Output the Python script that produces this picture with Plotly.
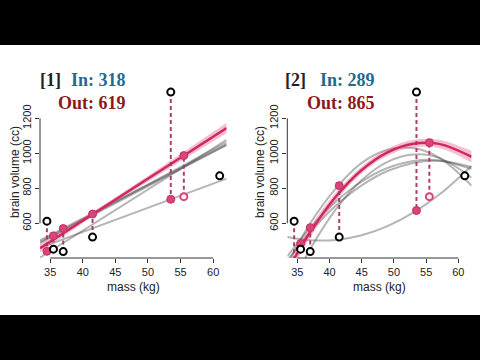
import plotly.graph_objects as go

# ---- data ----
mass = [37.0, 35.5, 34.5, 41.5, 55.5, 61.0, 53.5]
brain = [438, 452, 612, 521, 752, 871, 1350]
left_out = [34.5, 35.5, 37.0, 41.5, 53.5, 55.5]      # points already left out (last = current)
current_out = 55.5

# panel 1: straight-line fits, each left-out point -> line ends at x range edges
lin_x = [33.44, 62.06]
lin_fits = {
    34.5: [404, 1077],
    35.5: [488, 1049],
    37.0: [502, 1049],
    41.5: [492, 1063],
    53.5: [460, 855],
}
lin_cur = [458, 1144]
lin_band_x = [33.44, 38.6, 43.83, 53.0, 62.06]
lin_band_hi = [481, 599, 720, 946, 1174]
lin_band_lo = [435, 565, 694, 908, 1114]
lin_pred = [440, 528, 570, 653, 737, 987]

# panel 2: parabola fits sampled along mass
quad_x = [33.44, 37, 41, 45, 49, 53, 57, 62.06]
quad_fits = {
    34.5: [198, 453, 681, 847, 951, 993, 974, 861],
    35.5: [386, 550, 701, 817, 899, 945, 957, 922],
    37.0: [410, 575, 725, 839, 916, 956, 959, 910],
    41.5: [365, 600, 800, 945, 1020, 1030, 975, 815],
    53.5: [522, 503, 505, 532, 584, 661, 763, 928],
}
quad_cur = [327, 550, 753, 905, 1006, 1055, 1054, 980]
quad_band_hi = [375, 582, 777, 925, 1026, 1077, 1078, 1014]
quad_band_lo = [279, 518, 729, 885, 986, 1033, 1030, 946]
quad_pred = [279, 484, 575, 815, 673, 1061]

titles = [("[1]", "In: 318", "Out: 619"), ("[2]", "In: 289", "Out: 865")]
x_ticks = [35, 40, 45, 50, 55, 60]
y_ticks = [600, 800, 1000, 1200]

# ---- styles ----
GRAY = "rgba(70,70,70,0.40)"
PINK = "#d2285f"
PINK_DOT = "#d9457a"
BAND = "rgba(225,90,130,0.38)"
DASH = "rgba(168,52,104,0.95)"
BLUE = "#1f6a8f"
RED = "#8b1a1a"

fig = go.Figure()


def add_panel(k, fx, fits, cur, bx, bhi, blo, preds, shape):
    xa = "x" if k == 1 else "x2"
    ya = "y" if k == 1 else "y2"
    for o, ys in fits.items():
        fig.add_trace(go.Scatter(x=fx, y=ys, mode="lines", xaxis=xa, yaxis=ya,
                                 line=dict(color=GRAY, width=2, shape=shape),
                                 hoverinfo="skip", showlegend=False))
    fig.add_trace(go.Scatter(x=bx, y=blo, mode="lines", xaxis=xa, yaxis=ya,
                             line=dict(width=0, shape="spline"), hoverinfo="skip", showlegend=False))
    fig.add_trace(go.Scatter(x=bx, y=bhi, mode="lines", xaxis=xa, yaxis=ya, fill="tonexty",
                             fillcolor=BAND, line=dict(width=0, shape="spline"),
                             hoverinfo="skip", showlegend=False))
    fig.add_trace(go.Scatter(x=fx, y=cur, mode="lines", xaxis=xa, yaxis=ya,
                             line=dict(color=PINK, width=2.5, shape=shape),
                             hoverinfo="skip", showlegend=False))
    # dashed residual segments
    dx, dy = [], []
    for o, p in zip(left_out, preds):
        v = brain[mass.index(o)]
        dx += [o, o, None]
        dy += [v, p, None]
    fig.add_trace(go.Scatter(x=dx, y=dy, mode="lines", xaxis=xa, yaxis=ya,
                             line=dict(color=DASH, width=2, dash="4px,3px"),
                             hoverinfo="skip", showlegend=False))
    fig.add_trace(go.Scatter(x=left_out, y=preds, mode="markers", xaxis=xa, yaxis=ya,
                             marker=dict(size=8, color=PINK_DOT, line=dict(color="#c23064", width=1)),
                             hoverinfo="skip", showlegend=False))
    ox = [m for m in mass if m != current_out]
    oy = [b for m, b in zip(mass, brain) if m != current_out]
    fig.add_trace(go.Scatter(x=ox, y=oy, mode="markers", xaxis=xa, yaxis=ya,
                             marker=dict(size=7, color="white", line=dict(color="black", width=2)),
                             hoverinfo="skip", showlegend=False))
    fig.add_trace(go.Scatter(x=[current_out], y=[brain[mass.index(current_out)]], mode="markers",
                             xaxis=xa, yaxis=ya,
                             marker=dict(size=7, color="rgba(255,235,242,1)", line=dict(color=PINK_DOT, width=2)),
                             hoverinfo="skip", showlegend=False))


add_panel(1, lin_x, lin_fits, lin_cur, lin_band_x, lin_band_hi, lin_band_lo, lin_pred, "linear")
add_panel(2, quad_x, quad_fits, quad_cur, quad_x, quad_band_hi, quad_band_lo, quad_pred, "spline")

W, H = 480, 360
doms = [(40 / W, 226.6 / W), (287.3 / W, 471.6 / W)]
ydom = ((360 - 258) / H, (360 - 85.7) / H)
axis_common = dict(showgrid=False, zeroline=False, showline=False, ticks="outside",
                   ticklen=4, tickwidth=1, tickcolor="#333",
                   tickfont=dict(family="Liberation Sans, Arial", size=11, color="#222"))
fig.update_layout(
    width=W, height=H, margin=dict(l=0, r=0, t=0, b=0),
    paper_bgcolor="white", plot_bgcolor="white",
    xaxis=dict(domain=doms[0], range=[33.44, 62.06], tickvals=x_ticks, anchor="y", **axis_common),
    yaxis=dict(domain=ydom, range=[401.5, 1386.5], tickvals=y_ticks, tickangle=-90, anchor="x", **axis_common),
    xaxis2=dict(domain=doms[1], range=[33.44, 62.06], tickvals=x_ticks, anchor="y2", **axis_common),
    yaxis2=dict(domain=ydom, range=[401.5, 1386.5], tickvals=y_ticks, tickangle=-90, anchor="x2", **axis_common),
)

shapes = []
for xa, ya in (("x", "y"), ("x2", "y2")):
    shapes.append(dict(type="line", xref=xa, yref=ya + " domain", x0=x_ticks[0], x1=x_ticks[-1],
                       y0=0, y1=0, line=dict(color="#333", width=1)))
    shapes.append(dict(type="line", xref=xa + " domain", yref=ya, x0=0, x1=0,
                       y0=y_ticks[0], y1=y_ticks[-1], line=dict(color="#333", width=1)))
# letterbox bars
shapes.append(dict(type="rect", xref="paper", yref="paper", x0=0, x1=1, y0=1 - 45 / H, y1=1,
                   fillcolor="black", line=dict(width=0), layer="above"))
shapes.append(dict(type="rect", xref="paper", yref="paper", x0=0, x1=1, y0=0, y1=45 / H,
                   fillcolor="black", line=dict(width=0), layer="above"))
fig.update_layout(shapes=shapes)

ann = []
serif = "Liberation Serif, Times New Roman, serif"
for (lab, tin, tout), (bx, tx) in zip(titles, [(63, 128), (308, 377)]):
    ann.append(dict(text="<b>%s</b>" % lab, x=bx / W, y=(H - 80) / H, xref="paper", yref="paper",
                    xanchor="right", yanchor="middle", showarrow=False,
                    font=dict(family=serif, size=18, color="#222")))
    ann.append(dict(text="<b>%s</b>" % tin, x=tx / W, y=(H - 80) / H, xref="paper", yref="paper",
                    xanchor="right", yanchor="middle", showarrow=False,
                    font=dict(family=serif, size=18, color=BLUE)))
    ann.append(dict(text="<b>%s</b>" % tout, x=tx / W, y=(H - 103) / H, xref="paper", yref="paper",
                    xanchor="right", yanchor="middle", showarrow=False,
                    font=dict(family=serif, size=18, color=RED)))
for yx, mx in [(15, 133.3), (260, 379.5)]:
    ann.append(dict(text="brain volume (cc)", x=yx / W, y=(H - 172) / H, xref="paper", yref="paper",
                    xanchor="center", yanchor="middle", textangle=-90, showarrow=False,
                    font=dict(family="Liberation Sans, Arial", size=12, color="#222")))
    ann.append(dict(text="mass (kg)", x=mx / W, y=(H - 287) / H, xref="paper", yref="paper",
                    xanchor="center", yanchor="middle", showarrow=False,
                    font=dict(family="Liberation Sans, Arial", size=12, color="#222")))
fig.update_layout(annotations=ann)

fig.write_html("out.html", config={"displayModeBar": False},
               post_script="document.body.style.margin='0';document.body.style.overflow='hidden';")
